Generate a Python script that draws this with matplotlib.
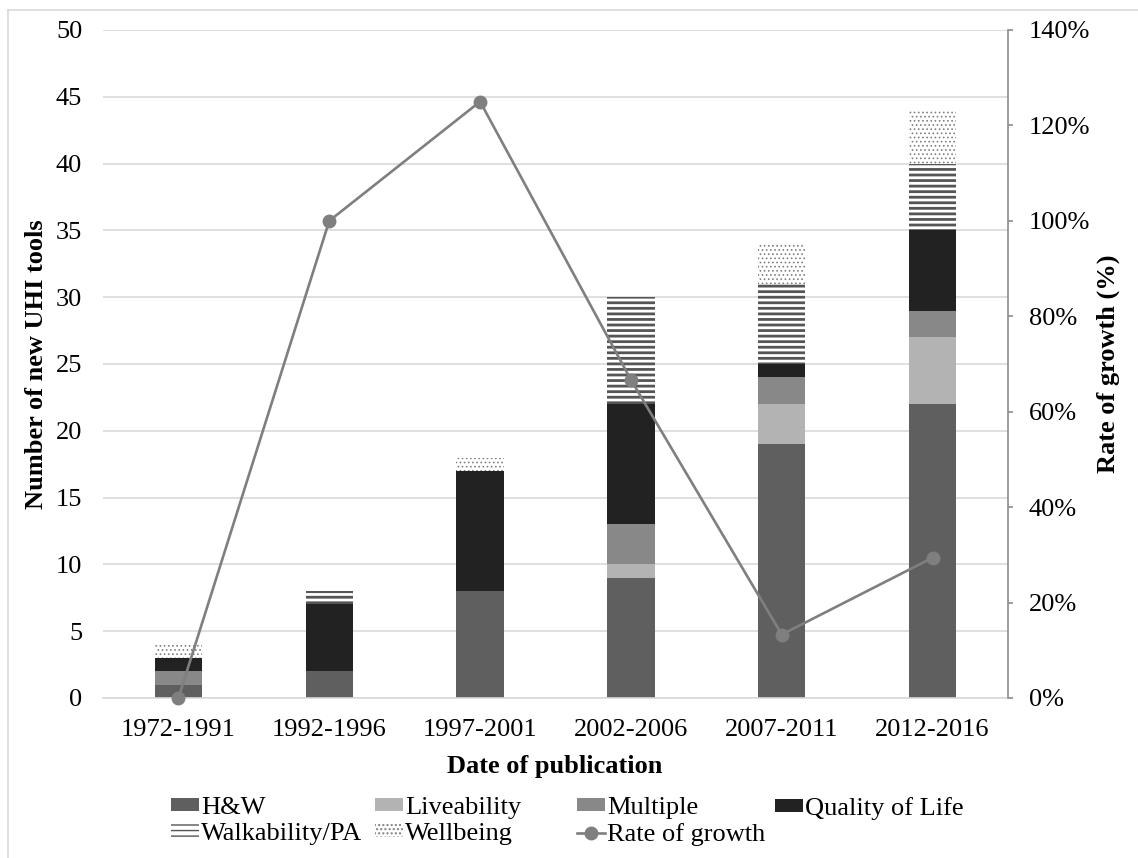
import matplotlib
matplotlib.use("Agg")
import matplotlib.pyplot as plt
from matplotlib.ticker import PercentFormatter, MultipleLocator
from matplotlib.lines import Line2D
from matplotlib.patches import Patch
import numpy as np

# Publication periods and number of new UHI tools per theme
periods = ["1972-1991", "1992-1996", "1997-2001", "2002-2006", "2007-2011", "2012-2016"]
hw = [1, 2, 8, 9, 19, 22]
liveability = [0, 0, 0, 1, 3, 5]
multiple = [1, 0, 0, 3, 2, 2]
quality_of_life = [1, 5, 9, 9, 1, 6]
walkability = [0, 1, 0, 8, 6, 5]
wellbeing = [1, 0, 1, 0, 3, 4]

# Growth rate between consecutive periods (%)
growth_rate = [0, 100, 125, 66.7, 13.3, 29.4]

plt.rcParams["font.family"] = ["Liberation Serif", "DejaVu Serif"]
plt.rcParams["font.size"] = 19

W, H = 1138, 858
fig = plt.figure(figsize=(W / 100, H / 100), dpi=100)


def fx(px):
    return px / W


def fy(py):
    return 1 - py / H


ax = fig.add_axes([fx(103), fy(698), fx(1008) - fx(103), fy(30) - fy(698)])
x = np.arange(len(periods))
bar_w = 0.313

# (label, values, face colour, hatch, hatch colour, hatch line width)
series = [
    ("H&W", hw, "#5f5f5f", None, "#5f5f5f", 1.0),
    ("Liveability", liveability, "#b3b3b3", None, "#b3b3b3", 1.0),
    ("Multiple", multiple, "#888888", None, "#888888", 1.0),
    ("Quality of Life", quality_of_life, "#222222", None, "#222222", 1.0),
    ("Walkability/PA", walkability, "white", "---", "#555555", 2.0),
    ("Wellbeing", wellbeing, "white", "....", "#808080", 0.7),
]

bottom = np.zeros(len(periods))
proxies = []
for label, vals, face, hatch, hcol, hlw in series:
    vals = np.asarray(vals, dtype=float)
    with plt.rc_context({"hatch.linewidth": hlw}):
        ax.bar(x, vals, bar_w, bottom=bottom, color=face, hatch=hatch,
               edgecolor=hcol, linewidth=0, zorder=2)
        proxies.append(Patch(facecolor=face, hatch=hatch, edgecolor=hcol,
                             linewidth=0, label=label))
    bottom += vals

ax.set_xlim(-0.5, len(periods) - 0.5)
ax.set_ylim(0, 50)
ax.yaxis.set_major_locator(MultipleLocator(5))
ax.set_xticks(x)
ax.set_xticklabels(periods)
ax.grid(axis="y", color="#d9d9d9", linewidth=1.2, zorder=0)
ax.set_axisbelow(True)
for s in ("top", "left", "right"):
    ax.spines[s].set_visible(False)
ax.spines["bottom"].set_color("#d9d9d9")
ax.spines["bottom"].set_linewidth(1.2)
ax.tick_params(axis="y", length=0, pad=15)
ax.tick_params(axis="x", length=0, pad=15)

# Growth rate on the secondary axis
ax2 = ax.twinx()
ax2.plot(x, growth_rate, color="#7f7f7f", linewidth=1.9, marker="o",
         markersize=9, zorder=3, clip_on=False)
ax2.set_ylim(0, 140)
ax2.yaxis.set_major_locator(MultipleLocator(20))
ax2.yaxis.set_major_formatter(PercentFormatter(100, decimals=0))
for s in ("top", "left", "bottom"):
    ax2.spines[s].set_visible(False)
ax2.spines["right"].set_color("#8c8c8c")
ax2.spines["right"].set_linewidth(1.2)
ax2.tick_params(axis="y", length=3.6, width=1.2, color="#8c8c8c", pad=11.5)

# Axis titles, centred on the plot area
fig.text(fx(37), fy(364), "Number of new UHI tools", rotation=90,
         ha="center", va="center", weight="bold")
fig.text(fx(1108), fy(364), "Rate of growth (%)", rotation=90,
         ha="center", va="center", weight="bold")
fig.text(fx(555), fy(767), "Date of publication", ha="center", va="center",
         weight="bold")

# Chart border
border = dict(color="#d9d9d9", linewidth=1.2, transform=fig.transFigure)
fig.add_artist(Line2D([fx(8), fx(8)], [fy(10), 0], **border))
fig.add_artist(Line2D([fx(8), 1], [fy(10), fy(10)], **border))

# Legend laid out as four evenly spaced columns
line_proxy = Line2D([], [], color="#7f7f7f", linewidth=1.9, marker="o",
                    markersize=9, label="Rate of growth")
all_handles = proxies + [line_proxy]
columns = [(171, [0, 4]), (375, [1, 5]), (577, [2, 6]), (775, [3])]
for xpx, idx in columns:
    hs = [all_handles[i] for i in idx]
    fig.legend(handles=hs, labels=[h.get_label() for h in hs],
               loc="upper left", bbox_to_anchor=(fx(xpx), fy(797)),
               frameon=False, borderpad=0, borderaxespad=0,
               handlelength=1.05, handleheight=0.35, handletextpad=0.1,
               labelspacing=0.15, fontsize=19)

fig.savefig("out.png", dpi=100)
